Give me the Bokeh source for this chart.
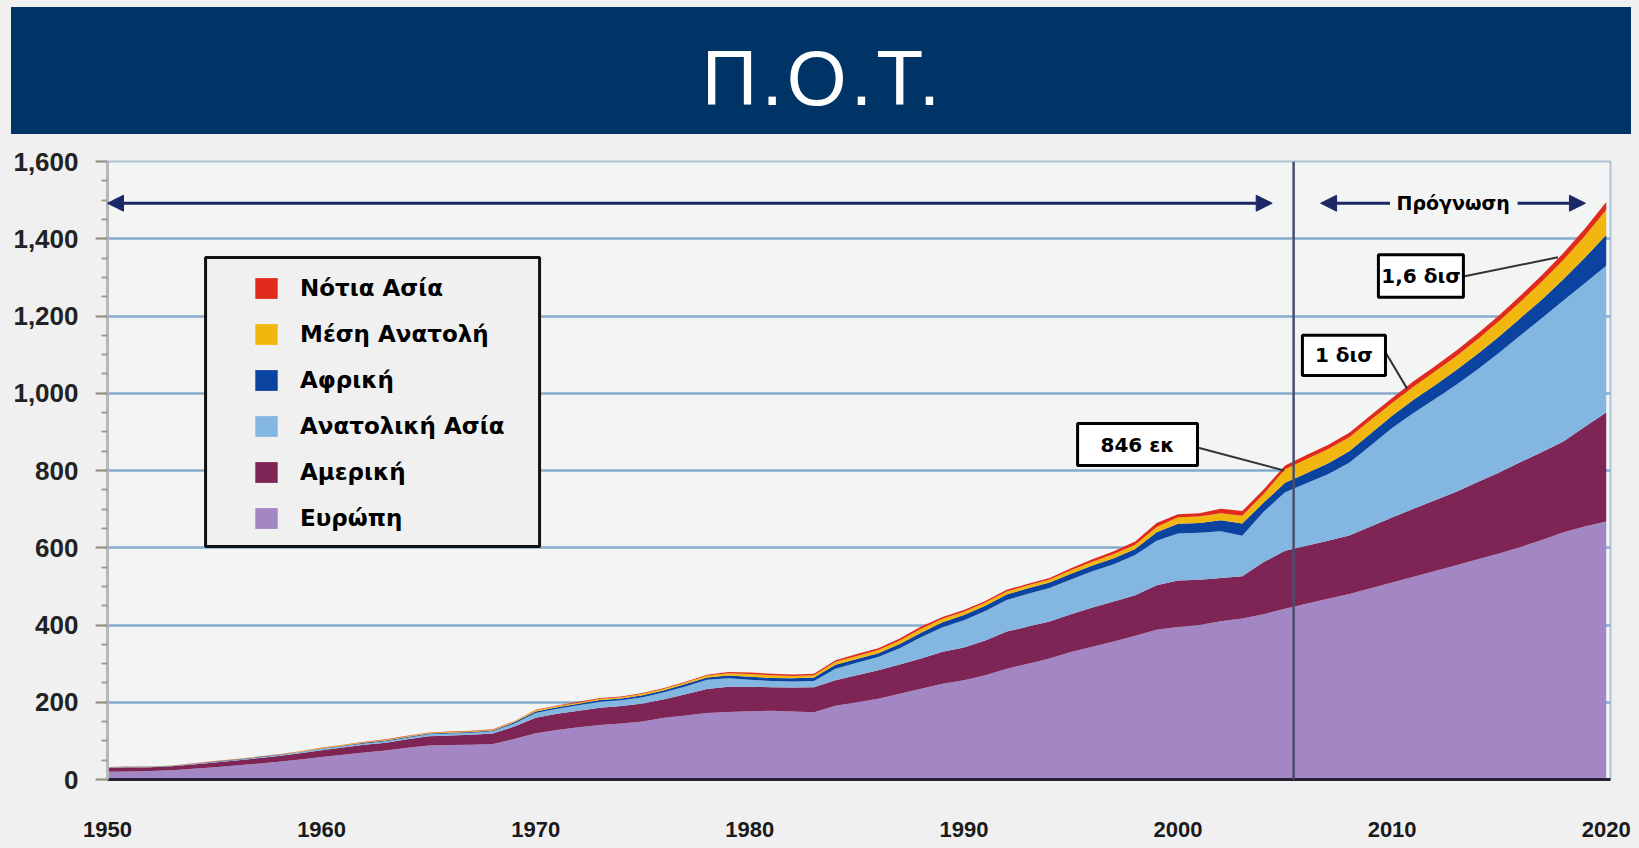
from bokeh.plotting import figure
from bokeh.models import (ColumnDataSource, Range1d, FixedTicker, SingleIntervalTicker,
                          NumeralTickFormatter, Span, Arrow, NormalHead, Label,
                          BoxAnnotation, Legend, LegendItem, Div)
from bokeh.layouts import column
from bokeh.embed import file_html
from bokeh.resources import INLINE

# ---------------- data ----------------
years = list(range(1950, 2021))

europe = [20, 21, 22, 24, 28, 32, 36, 41, 46, 52,
          58, 64, 70, 75, 82, 88, 89, 90, 92, 105,
          120, 128, 135, 141, 145, 150, 160, 166, 172, 175,
          177, 178, 176, 174, 191, 200, 209, 222, 235, 248,
          257, 270, 287, 300, 313, 330, 344, 357, 372, 388,
          395, 400, 410, 417, 428, 442,
          455, 468, 480, 495, 510, 525, 540, 555, 570, 585, 602, 620, 640, 655, 668]

america = [10, 10, 10, 10, 11, 12, 13, 14, 15, 16,
           18, 19, 20, 20, 22, 24, 25, 26, 27, 32,
           40, 42, 43, 45, 45, 47, 48, 55, 62, 65,
           63, 61, 62, 65, 66, 70, 74, 76, 78, 83,
           85, 90, 96, 96, 96, 98, 101, 104, 105, 115,
           120, 117, 112, 109, 135, 150,
           150, 150, 152, 160, 168, 176, 183, 190, 200, 210, 220, 228, 235, 258, 282]

east_asia = [1, 1, 1, 1, 1, 1.5, 1.5, 2, 2, 2.5,
             3, 3, 3.5, 4, 4, 5, 5, 5, 6, 8,
             12, 13, 14, 15, 15, 16, 18, 20, 24, 22,
             18, 16, 16, 16, 30, 32, 34, 42, 55, 63,
             70, 76, 82, 85, 87, 90, 94, 96, 104, 115,
             122, 122, 121, 105, 130, 152,
             162, 172, 188, 210, 232, 248, 262, 277, 292, 310, 328, 347, 365, 372, 380]

africa = [0.5, 0.5, 0.5, 0.5, 0.5, 1, 1, 1, 1, 1,
          1.5, 1.5, 1.5, 2, 2, 2, 2, 2, 2, 3,
          4, 4, 4, 5, 5, 5, 5, 6, 6, 7,
          8, 8, 8, 9, 10, 10, 10, 11, 12, 13,
          14, 14, 14, 14, 14, 15, 15, 16, 16, 22,
          25, 25, 28, 32, 24, 24,
          26, 28, 30, 31, 32, 34, 36, 38, 40, 42, 45, 48, 55, 66, 80]

middle_east = [0.5, 0.5, 0.5, 0.5, 1, 1, 1, 1, 1, 1,
               1.5, 1.5, 1.5, 2, 2, 2, 2, 2, 2, 2,
               3, 3, 3, 3, 3, 4, 4, 4, 5, 6,
               7, 7, 6, 6, 8, 8, 8, 9, 10, 9,
               8, 8, 8, 8, 8, 9, 10, 11, 11, 14,
               17, 17, 18, 20, 22, 35,
               36, 37, 36, 35, 33, 34, 35, 36, 38, 40, 42, 46, 50, 56, 65]

south_asia = [0.5, 0.5, 0.5, 0.5, 0.5, 0.5, 0.5, 0.5, 0.5, 0.5,
              1, 1, 1, 1, 1, 1, 1, 1, 1, 1,
              1.5, 1.5, 2, 2, 2, 2, 2, 2, 2, 3,
              4, 4, 4, 4, 4, 5, 5, 5, 6, 5,
              5, 4, 4, 4, 4, 5, 6, 7, 8, 10,
              8, 8, 12, 12, 12, 10,
              11, 11, 12, 12, 13, 14, 14, 15, 15, 15, 16, 17, 18, 19, 20]

series_keys = ["europe", "america", "east_asia", "africa", "middle_east", "south_asia"]
series_labels = ["Ευρώπη", "Αμερική", "Ανατολική Ασία", "Αφρική", "Μέση Ανατολή", "Νότια Ασία"]
series_colors = ["#a287c4", "#7f2556", "#84b6e2", "#0b43a0", "#f2b70f", "#e02a1c"]

x_ticks = [1950, 1960, 1970, 1980, 1990, 2000, 2010, 2020]
title_text = "Π.Ο.Τ."
forecast_text = "Πρόγνωση"
callout_texts = ["846 εκ", "1 δισ", "1,6 δισ"]

# ---------------- styling ----------------
PAGE_BG = "#f0f0f0"
BANNER = "#003366"
ARROW = "#1c2766"

# ---------------- banner ----------------
banner = Div(text=f'<span style="position:relative; top:8px; left:2px;">{title_text}</span>',
             width=1620, height=127, margin=(7, 8, 0, 11),
             styles={"background-color": BANNER, "color": "white",
                     "font-family": "Liberation Sans", "font-size": "77px",
                     "letter-spacing": "4px",
                     "text-align": "center", "line-height": "127px",
                     "overflow": "hidden"})

# ---------------- chart ----------------
p = figure(width=1639, height=714, x_range=Range1d(1950, 2020.2), y_range=Range1d(0, 1600),
           toolbar_location=None, output_backend="svg",
           min_border_left=107, min_border_right=29, min_border_top=27, min_border_bottom=69)
p.background_fill_color = "#f3f4f4"
p.border_fill_color = PAGE_BG
p.outline_line_color = "#aec4d6"
p.outline_line_width = 2

src = ColumnDataSource(dict(year=years, europe=europe, america=america, east_asia=east_asia,
                            africa=africa, middle_east=middle_east, south_asia=south_asia))
renderers = p.varea_stack(stackers=series_keys, x="year", color=series_colors, source=src)

# axes
yax = p.yaxis[0]
yax.ticker = SingleIntervalTicker(interval=200, num_minor_ticks=4)
yax.formatter = NumeralTickFormatter(format="0,0")
yax.axis_line_color = "#b8b8b8"
yax.axis_line_width = 3
yax.major_tick_in = 0
yax.major_tick_out = 12
yax.major_tick_line_color = "#8c8c7c"
yax.major_tick_line_width = 2
yax.minor_tick_in = 0
yax.minor_tick_out = 6
yax.minor_tick_line_color = "#a0a090"
yax.minor_tick_line_width = 2
yax.major_label_standoff = 17
yax.major_label_text_font = "Liberation Sans"
yax.major_label_text_font_size = "26px"
yax.major_label_text_font_style = "bold"
yax.major_label_text_color = "#222222"

xax = p.xaxis[0]
xax.ticker = FixedTicker(ticks=x_ticks)
xax.axis_line_color = "#2a2035"
xax.axis_line_width = 3
xax.major_tick_in = 0
xax.major_tick_out = 0
xax.major_tick_line_color = None
xax.minor_tick_line_color = None
xax.major_label_standoff = 42
xax.major_label_text_font = "Liberation Sans"
xax.major_label_text_font_size = "22px"
xax.major_label_text_font_style = "bold"
xax.major_label_text_color = "#1a1a1a"

p.xgrid.visible = False
p.ygrid.grid_line_color = "#88aacc"
p.ygrid.grid_line_width = 2.5

# forecast split line
split_year = 2005.4
p.add_layout(Span(location=split_year, dimension="height", line_color="#4a4e6e", line_width=2.5))

# arrows along the top
arrow_y = 1492
def head():
    return NormalHead(size=16, fill_color=ARROW, line_color=ARROW)
p.add_layout(Arrow(start=head(), end=head(), x_start=1950, y_start=arrow_y,
                   x_end=2004.4, y_end=arrow_y, line_color=ARROW, line_width=3))
p.add_layout(Arrow(start=head(), end=None, x_start=2006.66, y_start=arrow_y,
                   x_end=2009.9, y_end=arrow_y, line_color=ARROW, line_width=3))
p.add_layout(Arrow(start=None, end=head(), x_start=2015.86, y_start=arrow_y,
                   x_end=2019.03, y_end=arrow_y, line_color=ARROW, line_width=3))
p.add_layout(Label(x=2012.85, y=arrow_y, text=forecast_text, text_align="center",
                   text_baseline="middle", text_font="DejaVu Sans", text_font_style="bold",
                   text_font_size="19px", text_color="black"))

# legend frame + legend
p.add_layout(BoxAnnotation(left=1954.58, right=1970.18, top=1351.5, bottom=603.2,
                           fill_color=PAGE_BG, fill_alpha=1, line_color="#111111",
                           line_alpha=1, line_width=3, level="underlay"))
items = [LegendItem(label=lab, renderers=[r]) for lab, r in zip(series_labels, renderers)][::-1]
legend = Legend(items=items, location=(145, 248), orientation="vertical", padding=0, margin=0,
                spacing=20, glyph_width=28, glyph_height=26, label_height=26, label_standoff=20,
                label_text_font="DejaVu Sans", label_text_font_style="bold",
                label_text_font_size="23px", label_text_color="black",
                background_fill_alpha=0, border_line_alpha=0)
p.add_layout(legend)

# callouts: (left, right, top, bottom, text_x, text_y, line_start, line_end)
callout_geo = [
    (1995.31, 2000.91, 921.7, 813.0, 1998.11, 867, (2000.91, 859.5), (2004.95, 800)),
    (2005.81, 2009.69, 1150.0, 1046.0, 2007.75, 1098, (2009.69, 1106), (2010.7, 1012)),
    (2009.36, 2013.33, 1358.5, 1248.7, 2011.35, 1303.6, (2013.33, 1302), (2017.75, 1352)),
]
for txt, (l, r, t, b, tx, ty, (x0, y0), (x1, y1)) in zip(callout_texts, callout_geo):
    p.add_layout(Arrow(start=None, end=None, x_start=x0, y_start=y0, x_end=x1, y_end=y1,
                       line_color="#333333", line_width=2))
    p.add_layout(BoxAnnotation(left=l, right=r, top=t, bottom=b, fill_color="white",
                               fill_alpha=1, line_color="black", line_alpha=1, line_width=3))
    p.add_layout(Label(x=tx, y=ty, text=txt, text_align="center", text_baseline="middle",
                       text_font="DejaVu Sans", text_font_style="bold",
                       text_font_size="20px", text_color="black"))

layout = column(banner, p, spacing=0, styles={"background-color": PAGE_BG})
open("out.html", "w").write(file_html(layout, INLINE))
